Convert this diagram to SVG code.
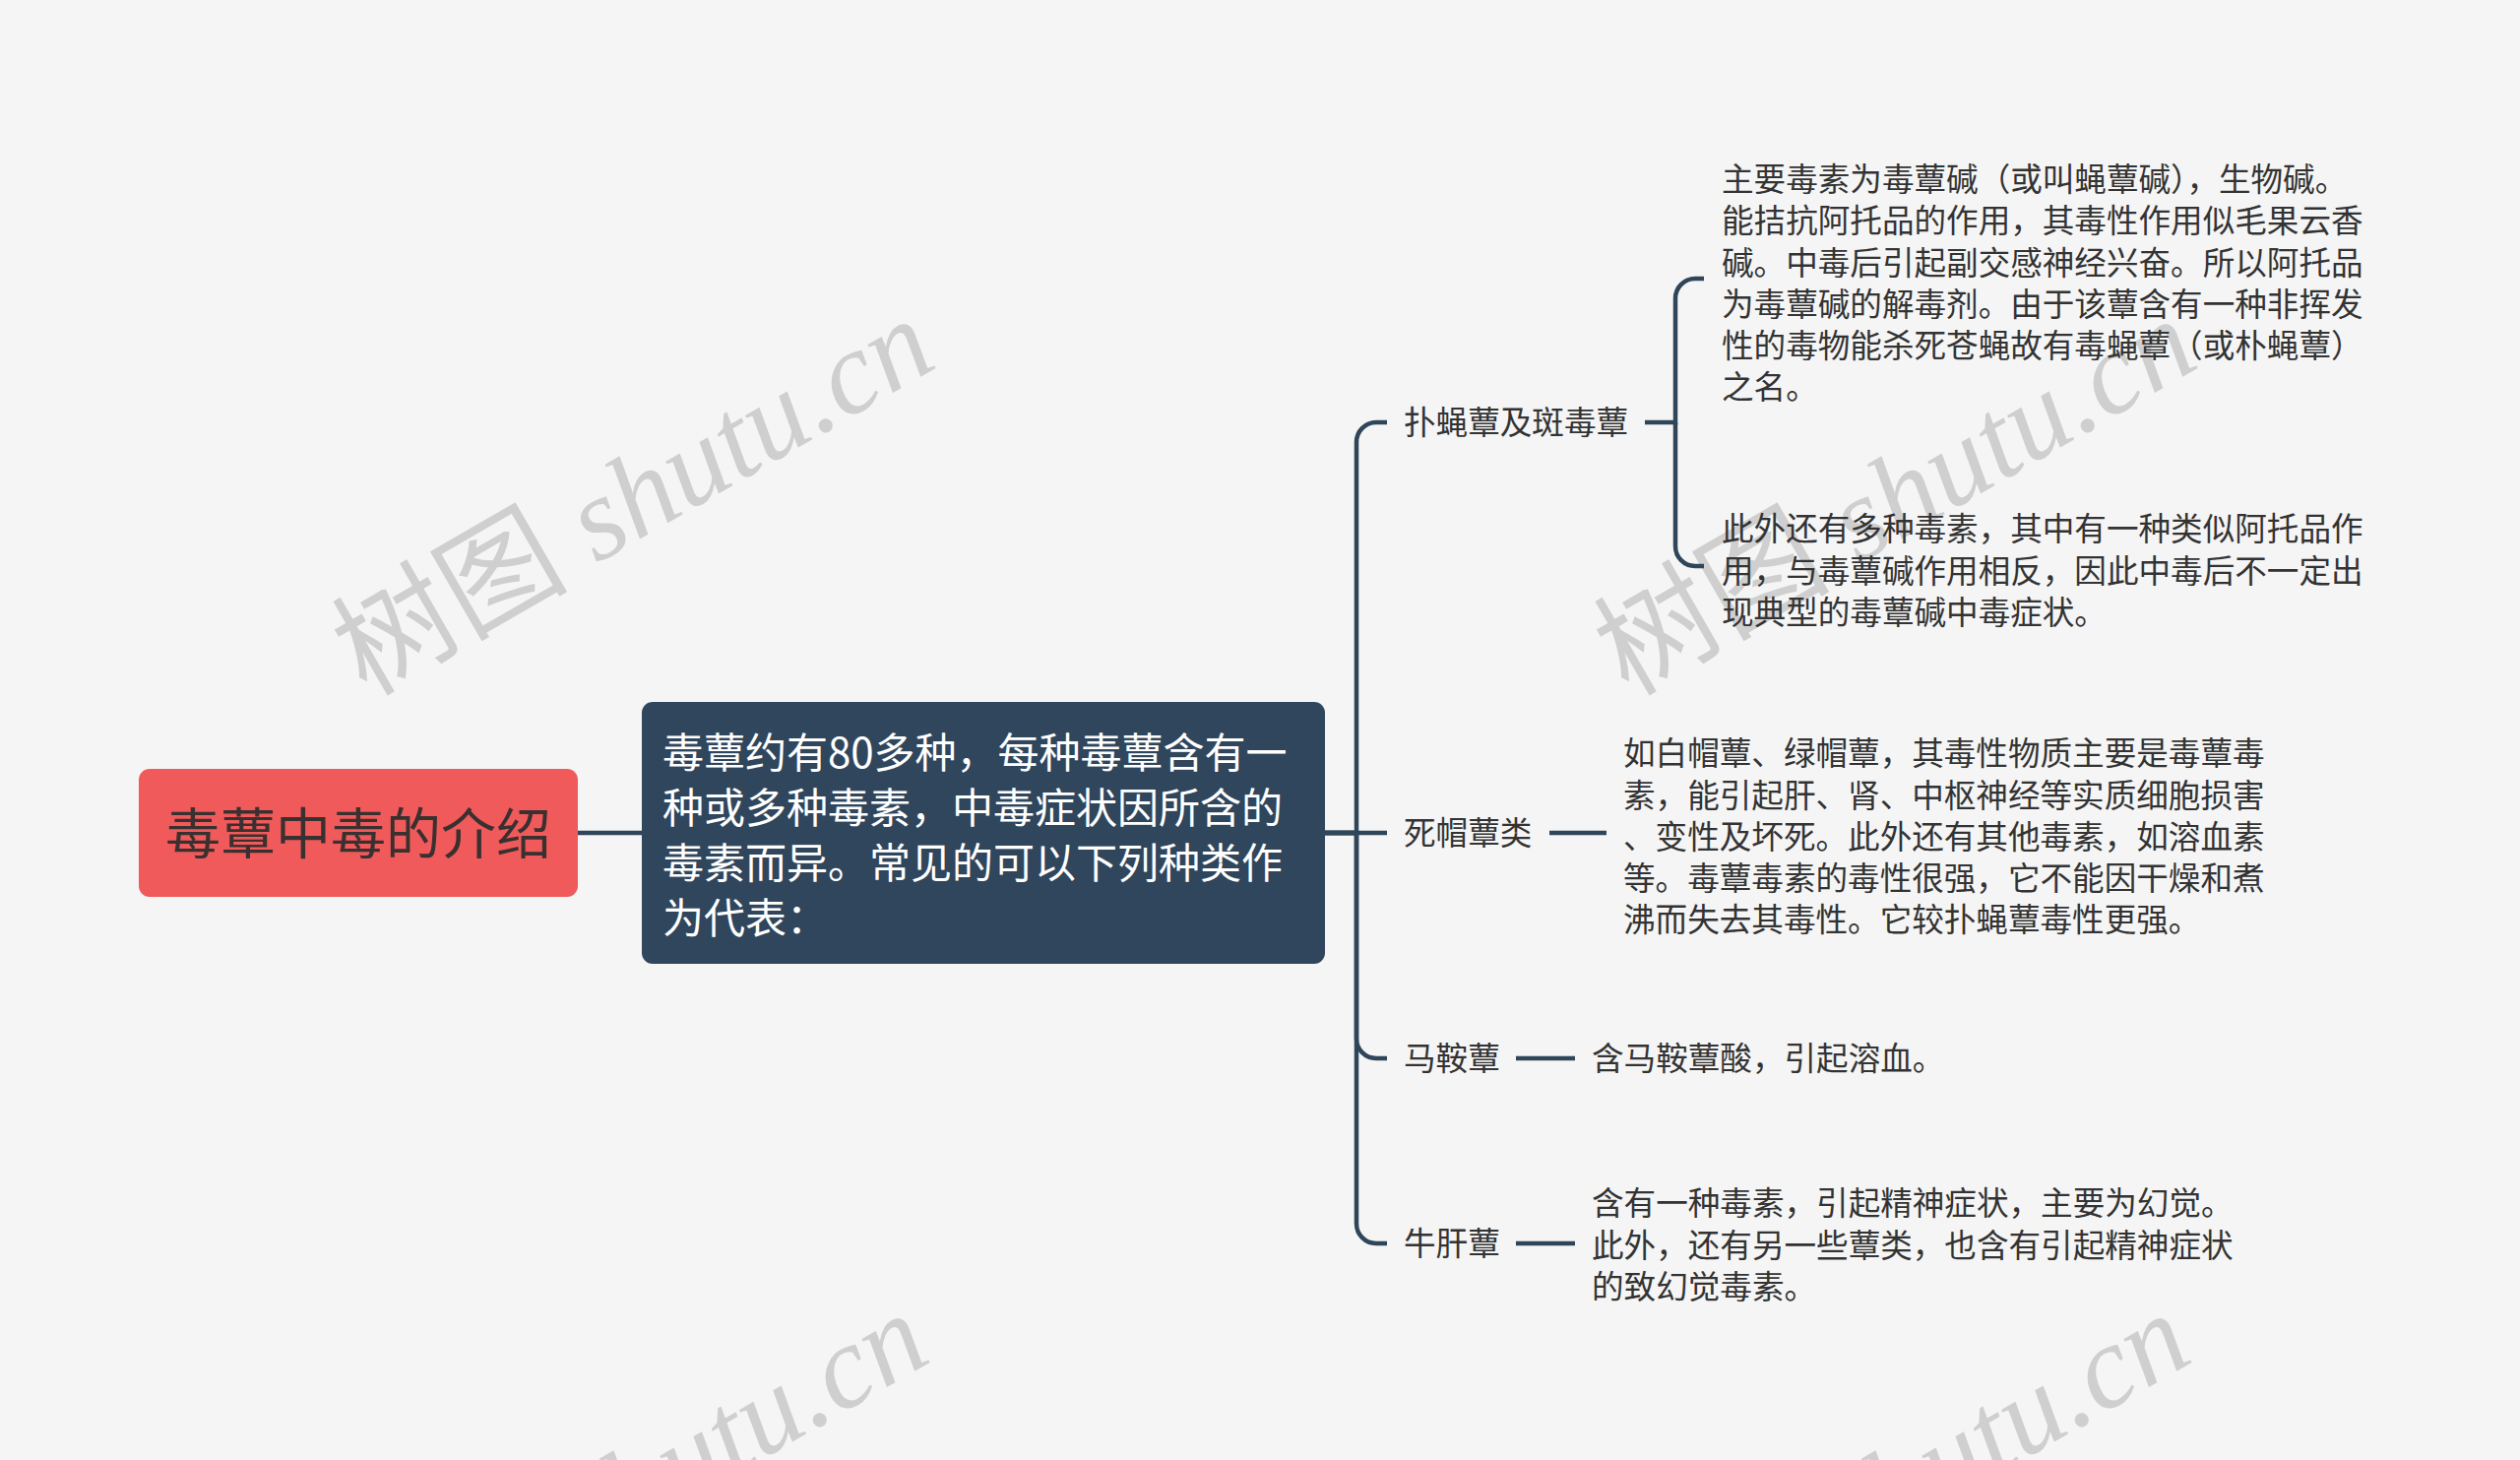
<svg xmlns="http://www.w3.org/2000/svg" width="2560" height="1483" viewBox="0 0 2560 1483">
<style>
  .bg { fill: #f5f5f5; }
  .wm { fill: #cfcfcf; font-family: "Liberation Serif", "Noto Sans CJK SC", serif; font-size: 120px; }
  .wm .lat { font-style: italic; }
  .conn { fill: none; stroke: #2f4559; stroke-width: 4.5; stroke-linecap: butt; }
  .root-box { fill: #f05a5a; }
  .root-txt { fill: #3a3030; font-family: "Noto Sans CJK SC", sans-serif; font-size: 56px; }
  .main-box { fill: #30465c; }
  .main-txt { fill: #ffffff; font-family: "Noto Sans CJK SC", sans-serif; font-size: 42px; }
  .lbl { fill: #333333; font-family: "Noto Sans CJK SC", sans-serif; font-size: 32.6px; }
</style>
<rect class="bg" x="0" y="0" width="2560" height="1483"/>

<g id="watermarks">
  <text class="wm" transform="translate(372,708) rotate(-30)">树图 <tspan class="lat">shutu.cn</tspan></text>
  <text class="wm" transform="translate(1654,708) rotate(-30)">树图 <tspan class="lat">shutu.cn</tspan></text>
  <text class="wm" transform="translate(366,1718) rotate(-30)">树图 <tspan class="lat">shutu.cn</tspan></text>
  <text class="wm" transform="translate(1648,1718) rotate(-30)">树图 <tspan class="lat">shutu.cn</tspan></text>
</g>

<g id="connectors">
  <path class="conn" d="M587,846 H652"/>
  <path class="conn" d="M1345,846 H1378 V449 A20,20 0 0 1 1398,429 H1409"/>
  <path class="conn" d="M1345,846 H1409"/>
  <path class="conn" d="M1345,846 H1378 V1055 A20,20 0 0 0 1398,1075 H1409"/>
  <path class="conn" d="M1345,846 H1378 V1243 A20,20 0 0 0 1398,1263 H1409"/>
  <path class="conn" d="M1671,429 H1702 V303 A20,20 0 0 1 1722,283 H1731"/>
  <path class="conn" d="M1702,429 V555 A20,20 0 0 0 1722,575 H1731"/>
  <path class="conn" d="M1574,846 H1632"/>
  <path class="conn" d="M1540,1075 H1600"/>
  <path class="conn" d="M1540,1263 H1600"/>
</g>

<g id="root">
  <rect class="root-box" x="141" y="781" width="446" height="130" rx="11"/>
  <text class="root-txt" x="364" y="867" text-anchor="middle">毒蕈中毒的介绍</text>
</g>

<g id="main">
  <rect class="main-box" x="652" y="713" width="694" height="266" rx="11"/>
  <text class="main-txt">
    <tspan x="673" y="780">毒蕈约有80多种，每种毒蕈含有一</tspan>
    <tspan x="673" y="836">种或多种毒素，中毒症状因所含的</tspan>
    <tspan x="673" y="892">毒素而异。常见的可以下列种类作</tspan>
    <tspan x="673" y="948">为代表：</tspan>
  </text>
</g>

<g id="label-pu">
  <text class="lbl" x="1426" y="441.4">扑蝇蕈及斑毒蕈</text>
</g>
<g id="text-pu-1">
  <text class="lbl">
    <tspan x="1749" y="193.9">主要毒素为毒蕈碱（或叫蝇蕈碱），生物碱。</tspan>
    <tspan x="1749" y="236.2">能拮抗阿托品的作用，其毒性作用似毛果云香</tspan>
    <tspan x="1749" y="278.5">碱。中毒后引起副交感神经兴奋。所以阿托品</tspan>
    <tspan x="1749" y="320.8">为毒蕈碱的解毒剂。由于该蕈含有一种非挥发</tspan>
    <tspan x="1749" y="363.1">性的毒物能杀死苍蝇故有毒蝇蕈（或朴蝇蕈）</tspan>
    <tspan x="1749" y="405.4">之名。</tspan>
  </text>
</g>
<g id="text-pu-2">
  <text class="lbl">
    <tspan x="1749" y="549.4">此外还有多种毒素，其中有一种类似阿托品作</tspan>
    <tspan x="1749" y="591.7">用，与毒蕈碱作用相反，因此中毒后不一定出</tspan>
    <tspan x="1749" y="634">现典型的毒蕈碱中毒症状。</tspan>
  </text>
</g>

<g id="label-si">
  <text class="lbl" x="1426" y="858.4">死帽蕈类</text>
</g>
<g id="text-si">
  <text class="lbl">
    <tspan x="1649" y="776.9">如白帽蕈、绿帽蕈，其毒性物质主要是毒蕈毒</tspan>
    <tspan x="1649" y="820.4">素，能引起肝、肾、中枢神经等实质细胞损害</tspan>
    <tspan x="1649" y="861.9">、变性及坏死。此外还有其他毒素，如溶血素</tspan>
    <tspan x="1649" y="904.4">等。毒蕈毒素的毒性很强，它不能因干燥和煮</tspan>
    <tspan x="1649" y="945.9">沸而失去其毒性。它较扑蝇蕈毒性更强。</tspan>
  </text>
</g>

<g id="label-ma">
  <text class="lbl" x="1426" y="1087.4">马鞍蕈</text>
</g>
<g id="text-ma">
  <text class="lbl" x="1617" y="1087.4">含马鞍蕈酸，引起溶血。</text>
</g>

<g id="label-niu">
  <text class="lbl" x="1426" y="1275.4">牛肝蕈</text>
</g>
<g id="text-niu">
  <text class="lbl">
    <tspan x="1617" y="1234.4">含有一种毒素，引起精神症状，主要为幻觉。</tspan>
    <tspan x="1617" y="1276.7">此外，还有另一些蕈类，也含有引起精神症状</tspan>
    <tspan x="1617" y="1319">的致幻觉毒素。</tspan>
  </text>
</g>
</svg>
